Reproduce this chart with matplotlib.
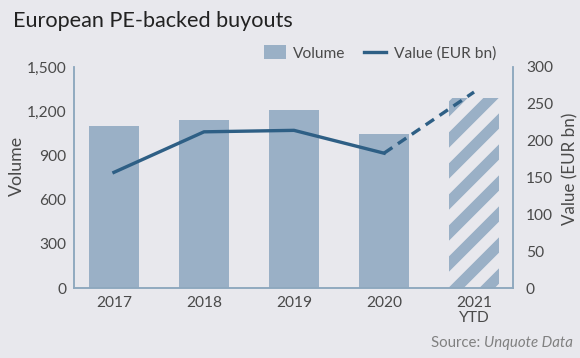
import matplotlib
matplotlib.use("Agg")
import matplotlib.pyplot as plt
from matplotlib.patches import Patch
from matplotlib.lines import Line2D

categories = ["2017", "2018", "2019", "2020", "2021\nYTD"]
volume = [1100, 1140, 1208, 1045, 1290]
value = [157, 212, 214, 183, 266]
vol_ticks = [0, 300, 600, 900, 1200, 1500]
val_ticks = [0, 50, 100, 150, 200, 250, 300]

BG = "#e8e8ed"
BAR = "#9ab0c6"
LINE = "#2e5f85"
SPINE = "#8ea8be"
TXT = "#4a4a4a"

DPI = 186
plt.rcParams["font.family"] = ["Lato", "DejaVu Sans"]
plt.rcParams["hatch.linewidth"] = 4.2

fig = plt.figure(figsize=(580 / DPI, 358 / DPI), dpi=DPI, facecolor=BG)
ax = fig.add_axes([74 / 580, 70 / 358, 439 / 580, 221 / 358])
ax.set_facecolor(BG)
x = list(range(len(categories)))

ax.bar(x[:-1], volume[:-1], width=0.556, color=BAR, linewidth=0, zorder=2)
ax.bar(x[-1], volume[-1], width=0.556, facecolor=BG, edgecolor=BAR, hatch="//",
       linewidth=0, zorder=2)
ax.set_ylim(0, 1500)
ax.set_xlim(-0.444, 4.433)
ax.set_yticks(vol_ticks)
ax.set_yticklabels([f"{v:,}" for v in vol_ticks])
ax.set_xticks(x)
ax.set_xticklabels(categories, linespacing=1.1)
ax.set_ylabel("Volume", color=TXT, fontsize=6.9, va="center")
ax.yaxis.set_label_coords(-0.130, 0.552)

ax2 = ax.twinx()
ax2.set_ylim(0, 300)
ax2.set_yticks(val_ticks)
ax2.plot(x[:-1], value[:-1], color=LINE, linewidth=1.3, zorder=3)
ax2.plot(x[-2:], value[-2:], color=LINE, linewidth=1.3, linestyle=(0, (3, 2)), zorder=3)
ax2.set_ylabel("Value (EUR bn)", color=TXT, fontsize=6.6, va="center")
ax2.yaxis.set_label_coords(1.13, 0.538)

for a in (ax, ax2):
    a.tick_params(length=0, labelsize=6.0, labelcolor=TXT, pad=3)
    a.spines["top"].set_visible(False)
    for s in ("left", "right", "bottom"):
        a.spines[s].set_color(SPINE)
        a.spines[s].set_linewidth(0.6)
ax2.tick_params(pad=5)

handles = [Patch(facecolor=BAR, edgecolor="none"),
           Line2D([0], [0], color=LINE, linewidth=1.3)]
fig.legend(handles, ["Volume", "Value (EUR bn)"], loc="center",
           bbox_to_anchor=(380 / 580, 1 - 53 / 358), ncol=2, frameon=False,
           fontsize=6.0, labelcolor=TXT, handlelength=1.4, handleheight=1.0,
           columnspacing=1.2, handletextpad=0.5)

fig.text(13 / 580, 1 - 21 / 358, "European PE-backed buyouts", fontsize=8.4,
         color="#222222", va="center", ha="left")
src = fig.text(573 / 580, 1 - 343 / 358, "Source: ", fontsize=5.8, color="#808080",
               ha="right", va="center")
t = fig.text(573 / 580, 1 - 343 / 358, "Unquote Data", fontsize=5.8, color="#808080",
             ha="right", va="center", style="italic")
fig.canvas.draw()
r = fig.canvas.get_renderer()
w = t.get_window_extent(r).width
src.set_position(((573 - w) / 580, 1 - 343 / 358))

fig.savefig("out.png", dpi=DPI, facecolor=BG)
